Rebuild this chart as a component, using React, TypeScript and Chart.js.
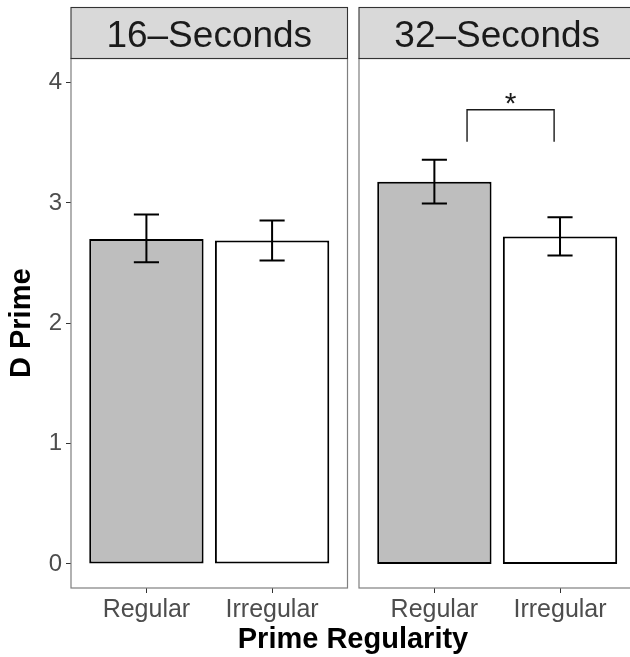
import React, { useEffect, useRef } from "react";
import { Chart, registerables } from "chart.js";

Chart.register(...registerables);

const categories = ["Regular", "Irregular"];
const panelLabels = ["16–Seconds", "32–Seconds"];
const mean16 = [2.7, 2.687];
const lower16 = [2.507, 2.521];
const upper16 = [2.903, 2.854];
const mean32 = [3.175, 2.72];
const lower32 = [2.995, 2.562];
const upper32 = [3.358, 2.881];
const barFills = ["#bebebe", "#ffffff"];
const yTicks = [0, 1, 2, 3, 4];
const sigBracketX = [1.26, 1.953];
const sigBracketY = [3.508, 3.774];
const sigLabel = "*";

const FONT = "'Liberation Sans', Arial, Helvetica, sans-serif";
const W = 630;
const H = 657;
const STRIP_TOP = 7.5;
const PANEL_TOP = 58.5;
const X_AXIS_H = 69;

type Bracket = { x: number[]; y: number[]; label: string } | null;

function panelPlugin(label: string, lower: number[], upper: number[], bracket: Bracket) {
  return {
    id: "panelDecor",
    afterDatasetsDraw(chart: any) {
      const { ctx, chartArea, scales } = chart;
      const { left, right, top, bottom } = chartArea;
      const x = scales.x;
      const y = scales.y;
      ctx.save();
      // error bars
      ctx.strokeStyle = "#000";
      ctx.lineWidth = 2;
      lower.forEach((lo, i) => {
        const v = i + 1;
        const cx = x.getPixelForValue(v);
        const x0 = x.getPixelForValue(v - 0.1);
        const x1 = x.getPixelForValue(v + 0.1);
        const yl = y.getPixelForValue(lo);
        const yu = y.getPixelForValue(upper[i]);
        ctx.beginPath();
        ctx.moveTo(cx, yl);
        ctx.lineTo(cx, yu);
        ctx.moveTo(x0, yl);
        ctx.lineTo(x1, yl);
        ctx.moveTo(x0, yu);
        ctx.lineTo(x1, yu);
        ctx.stroke();
      });
      // significance bracket
      if (bracket) {
        const bx0 = x.getPixelForValue(bracket.x[0]);
        const bx1 = x.getPixelForValue(bracket.x[1]);
        const by0 = y.getPixelForValue(bracket.y[0]);
        const by1 = y.getPixelForValue(bracket.y[1]);
        ctx.lineWidth = 1.4;
        ctx.strokeStyle = "#1a1a1a";
        ctx.beginPath();
        ctx.moveTo(bx0, by0);
        ctx.lineTo(bx0, by1);
        ctx.lineTo(bx1, by1);
        ctx.lineTo(bx1, by0);
        ctx.stroke();
        ctx.fillStyle = "#1a1a1a";
        ctx.font = `30px ${FONT}`;
        ctx.textAlign = "center";
        ctx.textBaseline = "alphabetic";
        ctx.fillText(bracket.label, (bx0 + bx1) / 2, by1 + 3);
      }
      // panel border
      ctx.strokeStyle = "#7f7f7f";
      ctx.lineWidth = 1.2;
      ctx.strokeRect(left, top, right - left, bottom - top);
      // strip
      ctx.fillStyle = "#d9d9d9";
      ctx.fillRect(left, STRIP_TOP, right - left, top - STRIP_TOP);
      ctx.strokeStyle = "#333333";
      ctx.lineWidth = 1.1;
      ctx.strokeRect(left, STRIP_TOP, right - left, top - STRIP_TOP);
      ctx.fillStyle = "#1a1a1a";
      ctx.font = `37px ${FONT}`;
      ctx.textAlign = "center";
      ctx.textBaseline = "alphabetic";
      ctx.fillText(label, (left + right) / 2, 46.5);
      ctx.restore();
    },
  };
}

function makeConfig(
  means: number[],
  lower: number[],
  upper: number[],
  label: string,
  showY: boolean,
  padLeft: number,
  padRight: number,
  bracket: Bracket
): any {
  return {
    type: "bar",
    data: {
      datasets: [
        {
          data: categories.map((_, i) => ({ x: i + 1, y: means[i] })),
          backgroundColor: barFills,
          borderColor: "#000000",
          borderWidth: 2,
          borderSkipped: false,
          categoryPercentage: 0.91,
          barPercentage: 1,
        },
      ],
    },
    options: {
      animation: false,
      responsive: false,
      maintainAspectRatio: false,
      devicePixelRatio: 1,
      layout: { padding: { top: PANEL_TOP, left: padLeft, right: padRight, bottom: 0 } },
      plugins: { legend: { display: false }, tooltip: { enabled: false }, title: { display: false } },
      scales: {
        x: {
          type: "linear",
          offset: false,
          grace: 0,
          min: 0.4,
          max: 2.6,
          afterBuildTicks: (s: any) => {
            s.ticks = categories.map((_, i) => ({ value: i + 1 }));
          },
          afterFit: (s: any) => {
            s.height = X_AXIS_H;
          },
          ticks: {
            autoSkip: false,
            maxRotation: 0,
            padding: 2,
            color: "#4d4d4d",
            font: { size: 25, family: FONT },
            callback: (v: number) => categories[Math.round(v) - 1],
          },
          grid: { offset: false, drawOnChartArea: false, drawTicks: true, tickLength: 5, tickColor: "#333333", tickWidth: 1 },
          border: { display: false },
        },
        y: {
          display: showY,
          min: -0.2,
          max: 4.2,
          afterBuildTicks: (s: any) => {
            s.ticks = yTicks.map((v) => ({ value: v }));
          },
          afterFit: (s: any) => {
            if (showY) s.width = 71;
          },
          ticks: {
            padding: 4,
            color: "#4d4d4d",
            font: { size: 24, family: FONT },
            callback: (v: number) => String(v),
          },
          grid: { drawOnChartArea: false, drawTicks: true, tickLength: 5, tickColor: "#333333", tickWidth: 1 },
          border: { display: false },
          title: {
            display: showY,
            text: "D Prime",
            color: "#000000",
            font: { size: 29, weight: "bold", family: FONT },
            padding: { top: 5, bottom: 0 },
          },
        },
      },
    },
    plugins: [panelPlugin(label, lower, upper, bracket)],
  };
}

export default function App() {
  const ref1 = useRef<HTMLCanvasElement>(null);
  const ref2 = useRef<HTMLCanvasElement>(null);

  useEffect(() => {
    Chart.defaults.font.family = FONT;
    const c1 = new Chart(
      ref1.current as HTMLCanvasElement,
      makeConfig(mean16, lower16, upper16, panelLabels[0], true, 0, 2.5, null)
    );
    const c2 = new Chart(
      ref2.current as HTMLCanvasElement,
      makeConfig(mean32, lower32, upper32, panelLabels[1], false, 2, 1.6, {
        x: sigBracketX,
        y: sigBracketY,
        label: sigLabel,
      })
    );
    return () => {
      c1.destroy();
      c2.destroy();
    };
  }, []);

  return (
    <div
      style={{
        position: "absolute",
        left: 0,
        top: 0,
        width: W,
        height: H,
        overflow: "hidden",
        background: "#ffffff",
      }}
    >
      <canvas
        ref={ref1}
        width={350}
        height={H}
        style={{ position: "absolute", left: 0, top: 0, width: 350, height: H }}
      />
      <canvas
        ref={ref2}
        width={280}
        height={H}
        style={{ position: "absolute", left: 357, top: 0, width: 280, height: H }}
      />
      <div
        style={{
          position: "absolute",
          left: 0,
          top: 623.5,
          width: 706,
          textAlign: "center",
          fontFamily: FONT,
          fontWeight: "bold",
          fontSize: 29,
          lineHeight: "29px",
          color: "#000",
          whiteSpace: "nowrap",
        }}
      >
        Prime Regularity
      </div>
    </div>
  );
}
